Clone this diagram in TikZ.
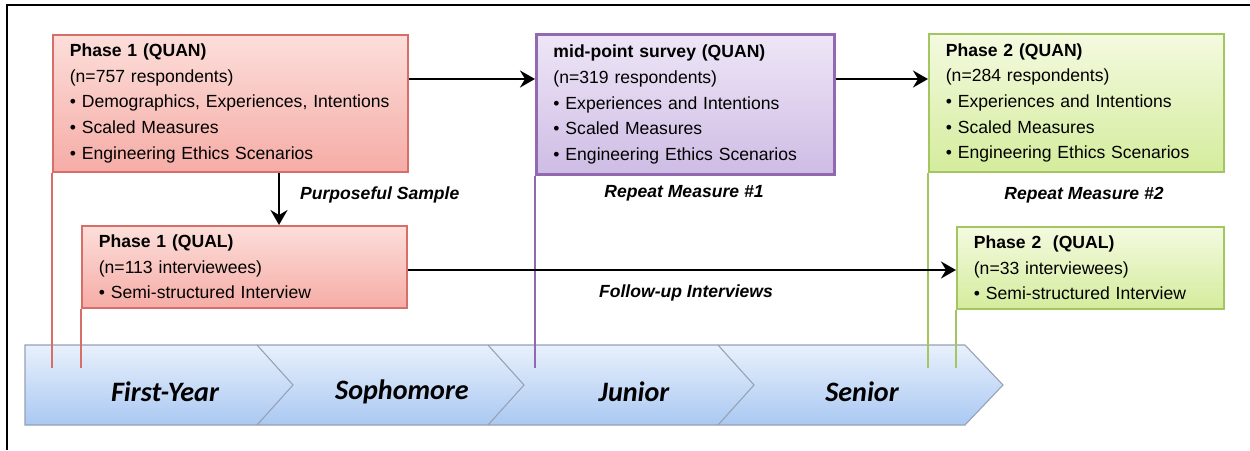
\documentclass[tikz,border=0pt]{standalone}
\usepackage{fontspec}
\setmainfont{Liberation Sans}
\newfontfamily\yearfont{Carlito}
\usetikzlibrary{arrows.meta}

\definecolor{redline}{RGB}{216,110,104}
\definecolor{redtop}{RGB}{252,222,218}
\definecolor{redbot}{RGB}{246,172,166}
\definecolor{purpline}{RGB}{146,104,176}
\definecolor{purptop}{RGB}{238,230,247}
\definecolor{purpbot}{RGB}{206,188,228}
\definecolor{greenline}{RGB}{164,198,96}
\definecolor{greentop}{RGB}{244,250,224}
\definecolor{greenbot}{RGB}{212,236,156}
\definecolor{bandline}{RGB}{150,160,178}
\definecolor{bandtop}{RGB}{232,240,252}
\definecolor{bandbot}{RGB}{170,200,242}

\tikzset{
  stagebox/.style={anchor=north west, align=left, inner xsep=0.34cm, inner ysep=0pt,
    font=\fontsize{10}{14.6}\selectfont},
  redbox/.style={stagebox, draw=redline, line width=1pt, top color=redtop, bottom color=redbot},
  purpbox/.style={stagebox, draw=purpline, line width=1.7pt, top color=purptop, bottom color=purpbot},
  greenbox/.style={stagebox, draw=greenline, line width=1pt, top color=greentop, bottom color=greenbot},
  flow/.style={line width=1.4pt, -{Stealth[length=0.3cm, width=0.34cm, inset=0.1cm]}},
  note/.style={font=\fontsize{10}{12}\selectfont\bfseries\itshape},
  year/.style={font=\yearfont\fontsize{16}{18}\selectfont\bfseries\itshape},
  chev/.style={draw=bandline, line width=0.6pt}
}

\begin{document}
\begin{tikzpicture}[x=0.02cm, y=-0.02cm]
\useasboundingbox (0,0) rectangle (1250,450);

%frame
\draw[line width=1.2pt] (7,450) -- (7,5) -- (1250,5);

%timeline
\path[draw=bandline, line width=0.6pt, top color=bandtop, bottom color=bandbot]
  (25,345) -- (965,345) -- (1003,385) -- (965,425) -- (25,425) -- cycle;
\draw[chev] (257,345) -- (293,385) -- (257,425);
\draw[chev] (488,345) -- (524,385) -- (488,425);
\draw[chev] (718,345) -- (754,385) -- (718,425);
\node[year] (fy) at (165,392) {First-Year};
\node[year] (soph) at (402,392) {Sophomore};
\node[year] (jun) at (634,392) {Junior};
\node[year] (sen) at (862,392) {Senior};

%boxes
\node[redbox, text width=6.42cm, minimum height=2.74cm] (q1) at (52,34) {%
  \textbf{Phase 1 (QUAN)}\\(n=757 respondents)\\\textbullet\ Demographics, Experiences, Intentions\\%
  \textbullet\ Scaled Measures\\\textbullet\ Engineering Ethics Scenarios};
\node[purpbox, text width=5.28cm, minimum height=2.8cm] (mid) at (535,33) {%
  \textbf{mid-point survey (QUAN)}\\(n=319 respondents)\\\textbullet\ Experiences and Intentions\\%
  \textbullet\ Scaled Measures\\\textbullet\ Engineering Ethics Scenarios};
\node[greenbox, text width=5.22cm, minimum height=2.76cm] (q2) at (928,33) {%
  \textbf{Phase 2 (QUAN)}\\(n=284 respondents)\\\textbullet\ Experiences and Intentions\\%
  \textbullet\ Scaled Measures\\\textbullet\ Engineering Ethics Scenarios};
\node[redbox, text width=5.82cm, minimum height=1.64cm] (l1) at (81,225) {%
  \textbf{Phase 1 (QUAL)}\\(n=113 interviewees)\\\textbullet\ Semi-structured Interview};
\node[greenbox, text width=4.66cm, minimum height=1.64cm] (l2) at (956,226) {%
  \textbf{Phase 2\ \ (QUAL)}\\(n=33 interviewees)\\\textbullet\ Semi-structured Interview};

%time lines
\coordinate (foot) at (0,368);
\draw[redline, line width=1pt] (q1.south west) -- (q1.south west |- foot);
\draw[redline, line width=1pt] (l1.south west) -- (l1.south west |- foot);
\draw[purpline, line width=1pt] (mid.south west) -- (mid.south west |- foot);
\draw[greenline, line width=1.2pt] (q2.south west) -- (q2.south west |- foot);
\draw[greenline, line width=1.2pt] (l2.south west) -- (l2.south west |- foot);

%arrows
\coordinate (row1) at (0,79);
\coordinate (row2) at (0,270);
\coordinate (col1) at (279,0);
\draw[flow] (q1.east |- row1) -- (mid.west |- row1);
\draw[flow] (mid.east |- row1) -- (q2.west |- row1);
\draw[flow] (q1.south -| col1) -- (l1.north -| col1);
\draw[flow] (l1.east |- row2) -- (l2.west |- row2);

%labels
\node[note, anchor=west] (ps) at (294,195) {Purposeful Sample};
\node[note] (rm1) at (684,193) {Repeat Measure \#1};
\node[note] (rm2) at (1084,195) {Repeat Measure \#2};
\node[note] (fu) at (686,293) {Follow-up Interviews};
\end{tikzpicture}
\end{document}
